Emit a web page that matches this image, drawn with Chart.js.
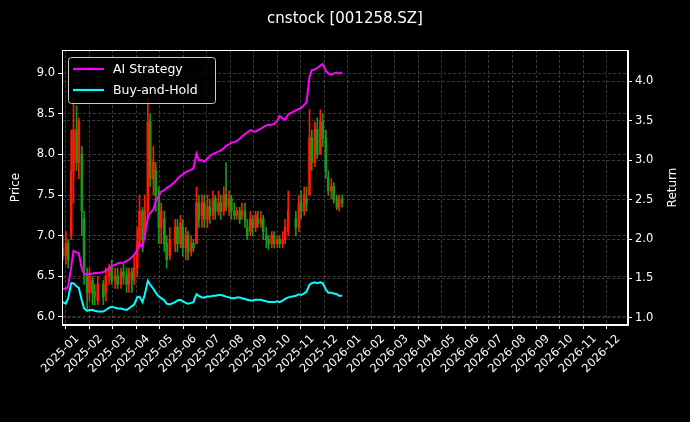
<!DOCTYPE html>
<html><head><meta charset="utf-8">
<script src="https://cdn.jsdelivr.net/npm/chart.js@4.4.0/dist/chart.umd.min.js"></script>
<style>html,body{margin:0;padding:0;background:#000;}#wrap{width:690px;height:422px;}</style>
</head><body><div id="wrap"><canvas id="c" width="690" height="422"></canvas></div>
<script>
const dates = ["2024-12-13","2024-12-17","2024-12-20","2024-12-24","2024-12-27","2024-12-31","2025-01-03","2025-01-07","2025-01-10","2025-01-14","2025-01-17","2025-01-21","2025-01-24","2025-01-28","2025-02-04","2025-02-07","2025-02-11","2025-02-14","2025-02-18","2025-02-21","2025-02-25","2025-02-28","2025-03-04","2025-03-07","2025-03-11","2025-03-14","2025-03-18","2025-03-21","2025-03-25","2025-03-28","2025-04-01","2025-04-04","2025-04-08","2025-04-11","2025-04-15","2025-04-18","2025-04-22","2025-04-25","2025-04-29","2025-05-06","2025-05-09","2025-05-13","2025-05-16","2025-05-20","2025-05-23","2025-05-27","2025-05-30","2025-06-03","2025-06-06","2025-06-10","2025-06-13","2025-06-17","2025-06-20","2025-06-24","2025-06-27","2025-07-01","2025-07-04","2025-07-08","2025-07-11","2025-07-15","2025-07-18","2025-07-22","2025-07-25","2025-07-29","2025-08-01","2025-08-05","2025-08-08","2025-08-12","2025-08-15","2025-08-19","2025-08-22","2025-08-26","2025-08-29","2025-09-02","2025-09-05","2025-09-09","2025-09-12","2025-09-16","2025-09-19","2025-09-23","2025-09-26","2025-09-30","2025-10-10","2025-10-14","2025-10-17","2025-10-21","2025-10-24","2025-10-28","2025-10-31","2025-11-04","2025-11-07","2025-11-11","2025-11-14","2025-11-18","2025-11-21","2025-11-25","2025-11-28","2025-12-02","2025-12-05","2025-12-09"];
const opens = [6.85,6.75,6.9,7.0,7.8,8.3,7.9,8.0,7.2,6.5,6.3,6.45,6.3,6.2,6.4,6.3,6.5,6.6,6.45,6.5,6.4,6.55,6.5,6.4,6.55,6.45,6.6,6.9,7.3,7.0,7.3,8.4,7.7,7.8,7.5,7.1,7.2,6.9,6.75,6.9,7.1,6.9,7.1,6.85,7.0,6.8,6.9,6.9,7.4,7.25,7.4,7.2,7.35,7.25,7.45,7.3,7.4,7.3,7.5,7.35,7.45,7.3,7.25,7.3,7.25,7.3,7.1,7.05,7.2,7.1,7.2,7.15,7.2,7.0,6.95,6.9,7.0,6.9,6.95,6.9,6.95,7.05,7.2,7.1,7.4,7.3,7.45,7.5,8.2,7.9,8.3,8.0,8.4,8.2,7.7,7.55,7.6,7.45,7.35,7.45];
const closes = [6.75,6.9,6.7,7.8,8.3,7.9,8.4,7.3,6.6,6.3,6.5,6.3,6.25,6.4,6.25,6.5,6.6,6.45,6.5,6.4,6.55,6.5,6.4,6.55,6.45,6.6,6.9,7.3,6.95,7.3,8.4,7.7,7.9,7.5,7.1,7.3,6.9,6.7,6.95,7.1,6.9,7.15,6.85,7.0,6.8,6.9,6.85,7.4,7.2,7.4,7.2,7.35,7.25,7.45,7.3,7.4,7.3,7.5,7.35,7.45,7.3,7.25,7.3,7.2,7.3,7.2,7.0,7.2,7.1,7.25,7.15,7.2,7.05,6.95,6.9,7.0,6.9,6.95,6.9,6.95,7.1,7.3,7.1,7.4,7.3,7.5,7.4,8.2,7.9,8.3,8.0,8.4,8.2,7.8,7.55,7.6,7.45,7.35,7.45,7.4];
const highs = [7.0,7.05,6.95,8.3,8.7,8.6,8.45,8.1,7.3,6.6,6.6,6.5,6.4,6.5,6.45,6.6,6.65,6.7,6.6,6.6,6.6,6.65,6.6,6.6,6.6,6.75,7.1,7.5,7.35,7.5,8.7,8.5,8.1,7.9,7.6,7.4,7.3,7.0,7.1,7.2,7.2,7.25,7.2,7.1,7.05,7.0,6.95,7.6,7.5,7.5,7.5,7.5,7.45,7.55,7.5,7.55,7.5,7.6,7.9,7.55,7.5,7.4,7.35,7.35,7.4,7.4,7.2,7.3,7.25,7.3,7.3,7.3,7.25,7.1,7.0,7.05,7.05,7.0,7.0,7.05,7.2,7.55,7.3,7.5,7.55,7.6,7.6,8.55,8.3,8.4,8.45,8.55,8.5,8.3,7.8,7.7,7.65,7.5,7.5,7.5];
const lows = [6.7,6.65,6.6,6.95,7.4,7.8,7.7,7.0,6.4,6.1,6.2,6.15,6.15,6.15,6.15,6.2,6.4,6.4,6.35,6.35,6.35,6.4,6.3,6.3,6.3,6.4,6.5,6.85,6.8,6.95,7.2,7.6,7.5,7.3,6.9,6.9,6.8,6.6,6.7,6.8,6.8,6.85,6.75,6.7,6.7,6.75,6.8,6.9,7.1,7.1,7.1,7.1,7.15,7.2,7.2,7.25,7.2,7.25,7.3,7.25,7.2,7.2,7.2,7.15,7.2,7.1,6.95,7.0,7.0,7.05,7.1,7.1,6.95,6.85,6.83,6.85,6.85,6.85,6.85,6.85,6.9,7.0,7.0,7.05,7.2,7.25,7.3,7.7,7.8,7.85,7.95,8.0,8.1,7.7,7.5,7.45,7.4,7.32,7.3,7.35];
const aiStrategy = [1.37,1.37,1.40,1.65,1.85,1.83,1.82,1.62,1.56,1.55,1.56,1.56,1.57,1.57,1.58,1.60,1.63,1.66,1.67,1.69,1.70,1.70,1.72,1.74,1.77,1.80,1.86,1.93,1.90,2.05,2.28,2.33,2.37,2.48,2.55,2.60,2.62,2.65,2.67,2.73,2.76,2.80,2.82,2.85,2.86,2.88,2.89,3.08,3.00,3.00,2.98,3.02,3.05,3.08,3.09,3.11,3.12,3.15,3.18,3.20,3.22,3.23,3.24,3.27,3.30,3.33,3.35,3.38,3.37,3.36,3.38,3.40,3.42,3.44,3.45,3.45,3.46,3.50,3.56,3.53,3.51,3.58,3.63,3.65,3.66,3.70,3.73,4.05,4.14,4.15,4.17,4.20,4.22,4.13,4.10,4.08,4.10,4.11,4.10,4.11];
const buyHold = [1.20,1.18,1.25,1.44,1.44,1.40,1.38,1.22,1.12,1.09,1.10,1.10,1.09,1.08,1.08,1.10,1.13,1.14,1.13,1.12,1.12,1.11,1.10,1.12,1.15,1.17,1.26,1.27,1.20,1.30,1.47,1.42,1.37,1.32,1.27,1.25,1.22,1.18,1.17,1.20,1.22,1.23,1.21,1.19,1.18,1.19,1.20,1.30,1.28,1.26,1.26,1.27,1.27,1.28,1.28,1.29,1.29,1.28,1.27,1.26,1.25,1.25,1.26,1.26,1.25,1.24,1.23,1.22,1.22,1.23,1.23,1.23,1.22,1.21,1.20,1.20,1.20,1.21,1.20,1.22,1.24,1.26,1.28,1.30,1.29,1.31,1.33,1.42,1.44,1.45,1.44,1.45,1.44,1.36,1.32,1.32,1.31,1.30,1.28,1.28];
const monthLabels = ["2025-01","2025-02","2025-03","2025-04","2025-05","2025-06","2025-07","2025-08","2025-09","2025-10","2025-11","2025-12","2026-01","2026-02","2026-03","2026-04","2026-05","2026-06","2026-07","2026-08","2026-09","2026-10","2026-11","2026-12"];

function toMonth(s){const [y,m,d]=s.split('-').map(Number);const dim=new Date(y,m,0).getDate();return (y-2025)*12+(m-1)+(d-1)/dim;}
const xs = dates.map(toMonth);
const up = opens.map((o,i)=>closes[i]>=o);
const colors = up.map(u=>u?'#ff1a00':'#1a9a1a');
const wick = xs.map((x,i)=>({x, y:[lows[i],highs[i]]}));
const body = xs.map((x,i)=>({x, y:[Math.min(opens[i],closes[i]), Math.max(opens[i],closes[i])+0.005]}));
const ai = xs.map((x,i)=>({x, y:aiStrategy[i]}));
const bh = xs.map((x,i)=>({x, y:buyHold[i]}));

const F = "'DejaVu Sans', sans-serif";
const gridCol = 'rgba(160,160,160,0.35)';
const frame = {id:'frame', afterDraw(ch){const a=ch.chartArea,c=ch.ctx;c.save();c.strokeStyle='#fff';c.lineWidth=1;c.strokeRect(a.left+0.5,a.top+0.5,a.right-a.left-1,a.bottom-a.top-1);
  // axis titles
  c.fillStyle='#fff';c.font='12px '+F;c.textAlign='center';c.textBaseline='middle';
  const cy=(a.top+a.bottom)/2;
  c.save();c.translate(16,cy);c.rotate(-Math.PI/2);c.fillText('Price',0,0);c.restore();
  c.save();c.translate(673,cy);c.rotate(-Math.PI/2);c.fillText('Return',0,0);c.restore();
  // legend
  c.textAlign='left';
  const lx=a.left+6, ly=a.top+7, w=147, h=46;
  c.fillStyle='rgba(0,0,0,0.8)';c.strokeStyle='#ccc';c.lineWidth=1;c.beginPath();c.roundRect(lx+0.5,ly+0.5,w,h,3);c.fill();c.stroke();
  const items=[['AI Strategy','#ff00ff'],['Buy-and-Hold','#00ffff']];
  items.forEach((it,k)=>{const yy=ly+12+k*21;c.strokeStyle=it[1];c.lineWidth=2.2;c.beginPath();c.moveTo(lx+5,yy);c.lineTo(lx+36,yy);c.stroke();
    c.fillStyle='#fff';c.font='12.5px '+F;c.textBaseline='middle';c.fillText(it[0],lx+45,yy+1);});
  c.restore();}};

new Chart(document.getElementById('c'),{
  type:'bar',
  data:{datasets:[
    {type:'line',label:'AI Strategy',data:ai,yAxisID:'y1',borderColor:'#ff00ff',borderWidth:2,pointRadius:0,tension:0,order:0},
    {type:'line',label:'Buy-and-Hold',data:bh,yAxisID:'y1',borderColor:'#00ffff',borderWidth:2,pointRadius:0,tension:0,order:0},
    {label:'wick',data:wick,yAxisID:'y',backgroundColor:colors,barThickness:1,grouped:false,order:2},
    {label:'body',data:body,yAxisID:'y',backgroundColor:colors,barThickness:2,grouped:false,order:1}
  ]},
  options:{responsive:false,animation:false,
    layout:{padding:{left:0,right:0,top:0,bottom:0}},
    plugins:{legend:{display:false},tooltip:{enabled:false},
      title:{display:true,text:'cnstock [001258.SZ]',color:'#fff',font:{family:F,size:15,weight:'normal'},padding:{top:10,bottom:22}}},
    scales:{
      x:{type:'linear',min:-0.65,max:23.41,offset:false,
        ticks:{stepSize:1,includeBounds:false,color:'#fff',font:{family:F,size:11.5},minRotation:45,maxRotation:45,autoSkip:false,
          callback:(v)=>Number.isInteger(v)&&v>=0&&v<monthLabels.length?monthLabels[v]:''},
        grid:{color:gridCol,tickColor:'#fff',tickLength:4},border:{color:'#fff',dash:[3,2]},
        afterFit(s){s.height=97;}},
      y:{position:'left',min:5.90,max:9.285,
        ticks:{stepSize:0.5,includeBounds:false,color:'#fff',font:{family:F,size:11.5},callback:v=>v.toFixed(1)},
        grid:{color:gridCol,tickColor:'#fff',tickLength:4},border:{color:'#fff',dash:[3,2]},
        afterFit(s){s.width=62;}},
      y1:{position:'right',min:0.91,max:4.396,
        ticks:{stepSize:0.5,includeBounds:false,color:'#fff',font:{family:F,size:11.5},callback:v=>v.toFixed(1)},
        grid:{color:gridCol,tickColor:'#fff',tickLength:4},border:{color:'#fff',dash:[3,2]},
        afterFit(s){s.width=62;}}
    }},
  plugins:[frame,{id:'bg',beforeDraw(ch){const c=ch.ctx;c.save();c.fillStyle='#000';c.fillRect(0,0,ch.width,ch.height);c.restore();}}]
});
</script></body></html>
